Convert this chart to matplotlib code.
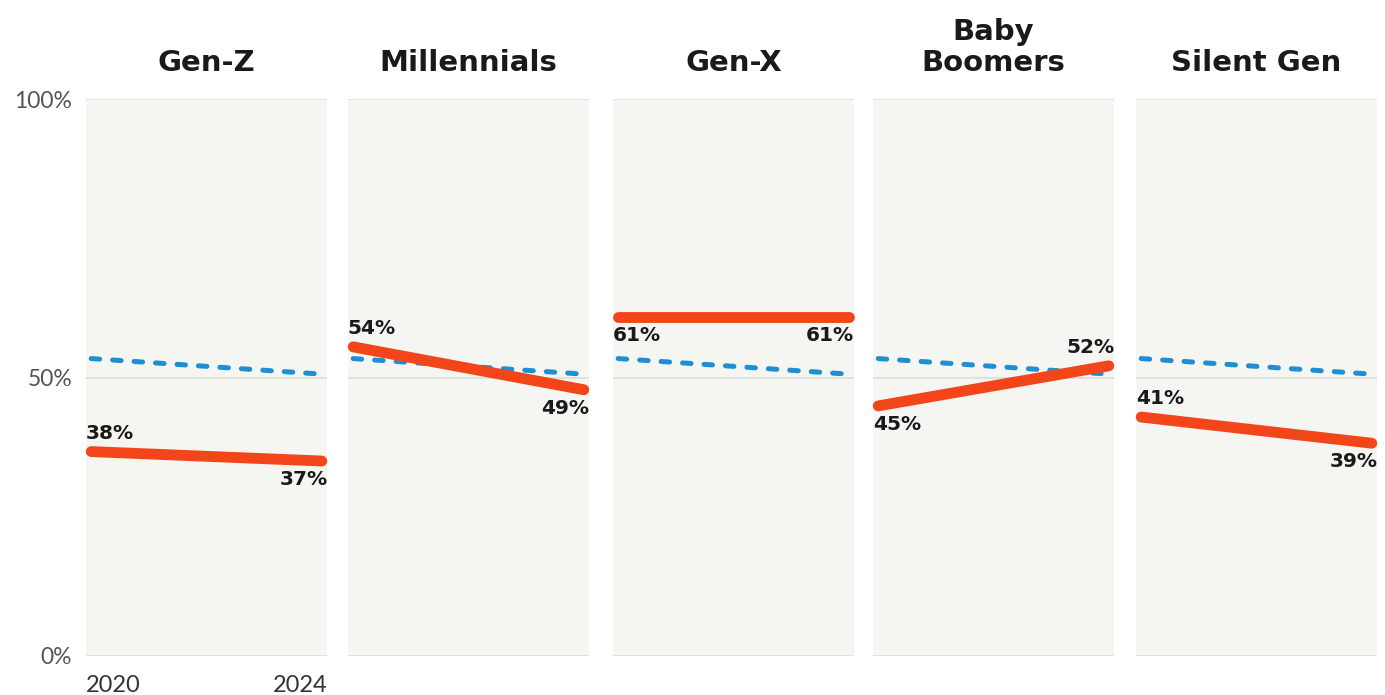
import matplotlib
matplotlib.use("Agg")
import matplotlib.pyplot as plt
import matplotlib.transforms as mtrans

# ---- data ----
generations = ["Gen-Z", "Millennials", "Gen-X", "Baby\nBoomers", "Silent Gen"]
years = [2020, 2024]
share_2020 = [36.7, 55.5, 60.8, 44.9, 42.9]
share_2024 = [35.0, 47.8, 60.8, 52.1, 38.2]
label_2020 = ["38%", "54%", "61%", "45%", "41%"]
label_2024 = ["37%", "49%", "61%", "52%", "39%"]
overall = [53.4, 50.6]
ytick_vals = [0, 50, 100]
ytick_labels = ["0%", "50%", "100%"]

# ---- style ----
RED = "#f2451a"
BLUE = "#1f8fd3"
BG = "#f5f5f1"
GRID = "#e0e0dc"

W, H = 1385, 695
fig = plt.figure(figsize=(W / 100, H / 100), dpi=100)
fig.patch.set_facecolor("white")

lefts_px = [86, 348, 613, 873, 1136]
width_px = 241
top_px, bottom_px = 99, 656

title_font = dict(family=["DejaVu Sans"], weight="bold", size=21, color="#1a1a1a")
val_font = dict(family=["DejaVu Sans"], weight="heavy", size=14.5, color="#1a1a1a")
tick_font = dict(family=["Lato", "DejaVu Sans"], size=16.5, color="#555555")
year_font = dict(family=["Lato", "DejaVu Sans"], size=17, color="#333333")

for i, gen in enumerate(generations):
    ax = fig.add_axes([lefts_px[i] / W, 1 - bottom_px / H, width_px / W, (bottom_px - top_px) / H])
    ax.set_facecolor(BG)
    pad = 0.09
    ax.set_xlim(years[0] - pad, years[1] + pad)
    ax.set_ylim(0, 100)
    for s in ax.spines.values():
        s.set_visible(False)
    for yv in ytick_vals:
        ax.axhline(yv, color=GRID, lw=1.4, zorder=1)

    # overall dashed line
    ax.plot(years, overall, color=BLUE, lw=3.6, dashes=(1.7, 2.6),
            dash_capstyle="round", solid_capstyle="round", zorder=2, clip_on=False)
    # generation line
    v0, v1 = share_2020[i], share_2024[i]
    ax.plot(years, [v0, v1], color=RED, lw=7.8, solid_capstyle="round", zorder=3, clip_on=False)

    # labels
    if v0 > v1:
        pos0, pos1 = "above", "below"
    elif v0 < v1:
        pos0, pos1 = "below", "above"
    else:
        pos0, pos1 = "below", "below"

    def place(x, y, txt, pos, ha, dx):
        dy = 6.5 if pos == "above" else -6.5
        va = "bottom" if pos == "above" else "top"
        ax.annotate(txt, (x, y), xytext=(dx, dy), textcoords="offset points",
                    ha=ha, va=va, zorder=4, **val_font)

    place(years[0], v0, label_2020[i], pos0, "left", -4)
    place(years[1], v1, label_2024[i], pos1, "right", 4)

    ax.set_title(gen, pad=20.5, linespacing=1.12, **title_font)

    ax.tick_params(length=0)
    if i == 0:
        ax.set_yticks(ytick_vals)
        ax.set_yticklabels(ytick_labels, **tick_font)
        ax.tick_params(axis="y", pad=10)
        ax.set_xticks(years)
        ax.set_xticklabels([str(y) for y in years], **year_font)
        ax.tick_params(axis="x", pad=14)
        xl = ax.get_xticklabels()
        xl[0].set_ha("left")
        xl[1].set_ha("right")
        off_l = mtrans.ScaledTranslation(-4 / 72, 0, fig.dpi_scale_trans)
        off_r = mtrans.ScaledTranslation(4 / 72, 0, fig.dpi_scale_trans)
        xl[0].set_transform(xl[0].get_transform() + off_l)
        xl[1].set_transform(xl[1].get_transform() + off_r)
    else:
        ax.set_yticks([])
        ax.set_xticks([])

fig.savefig("out.png", dpi=100, facecolor="white")
